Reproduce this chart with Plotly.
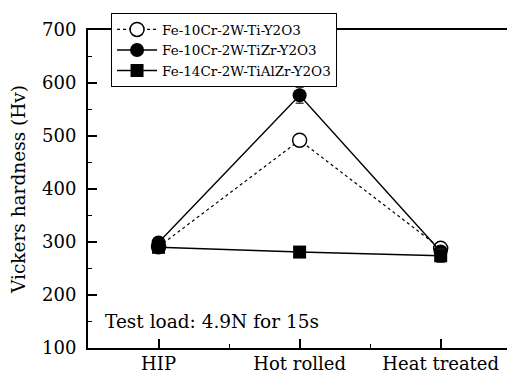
import plotly.graph_objects as go

stages = ["HIP", "Hot rolled", "Heat treated"]
stage_pos = [1, 2, 3]

ti_vals = [291, 492, 288]
ti_err = [4, 5, 5]
tizr_vals = [299, 577, 282]
tizr_err = [5, 15, 6]
tialzr_vals = [290, 281, 274]
tialzr_err = [4, 4, 12]

names = ["Fe-10Cr-2W-Ti-Y2O3", "Fe-10Cr-2W-TiZr-Y2O3", "Fe-14Cr-2W-TiAlZr-Y2O3"]

FONT = "DejaVu Serif"

fig = go.Figure()

err_style = dict(type="data", color="#444", thickness=1.5, width=4)

fig.add_trace(go.Scatter(
    x=stage_pos, y=ti_vals, name=names[0], mode="lines+markers",
    line=dict(color="black", width=1.2, dash="dot"),
    marker=dict(symbol="circle", size=14, color="white", line=dict(color="black", width=1.5)),
    error_y=dict(array=ti_err, **err_style),
))
fig.add_trace(go.Scatter(
    x=stage_pos, y=tizr_vals, name=names[1], mode="lines+markers",
    line=dict(color="black", width=1.4),
    marker=dict(symbol="circle", size=14, color="black"),
    error_y=dict(array=tizr_err, **err_style),
))
fig.add_trace(go.Scatter(
    x=stage_pos, y=tialzr_vals, name=names[2], mode="lines+markers",
    line=dict(color="black", width=1.4),
    marker=dict(symbol="square", size=13, color="black"),
    error_y=dict(array=tialzr_err, **err_style),
))

fig.add_annotation(
    text="Test load: 4.9N for 15s", xref="paper", yref="paper",
    x=0.036, y=0.084, xanchor="left", yanchor="middle", showarrow=False,
    font=dict(family=FONT, size=18.5, color="black"),
)

fig.update_layout(
    width=507, height=376,
    margin=dict(l=88, r=0, t=30, b=28, autoexpand=False),
    paper_bgcolor="white", plot_bgcolor="white",
    font=dict(family=FONT, size=19, color="black"),
    showlegend=True,
    legend=dict(
        x=0.055, y=1.053, xanchor="left", yanchor="top",
        bgcolor="white", bordercolor="black", borderwidth=1,
        font=dict(family=FONT, size=13.5, color="black"),
        itemwidth=40, tracegroupgap=0,
    ),
    xaxis=dict(
        range=[0.5, 3.47], tickvals=stage_pos, ticktext=stages,
        showline=True, linecolor="black", linewidth=2, mirror=True,
        ticks="inside", ticklen=9, tickwidth=1.5, tickcolor="black",
        minor=dict(tick0=0.5, dtick=0.5, ticks="inside", ticklen=4, tickwidth=1, tickcolor="black"),
        showgrid=False, zeroline=False, ticklabelstandoff=-2,
        tickfont=dict(family=FONT, size=18, color="black"),
    ),
    yaxis=dict(
        range=[100, 700], dtick=100,
        title=dict(text="Vickers hardness (Hv)", font=dict(family=FONT, size=18.5, color="black"), standoff=12),
        showline=True, linecolor="black", linewidth=2, mirror=False,
        ticks="inside", ticklen=9, tickwidth=1.5, tickcolor="black",
        minor=dict(dtick=50, ticks="inside", ticklen=4, tickwidth=1, tickcolor="black"),
        showgrid=False, zeroline=False, ticklabelstandoff=6,
        tickfont=dict(family=FONT, size=18, color="black"),
    ),
)

fig.write_html("out.html", config={"displayModeBar": False},
               post_script="document.body.style.margin='0px';")
